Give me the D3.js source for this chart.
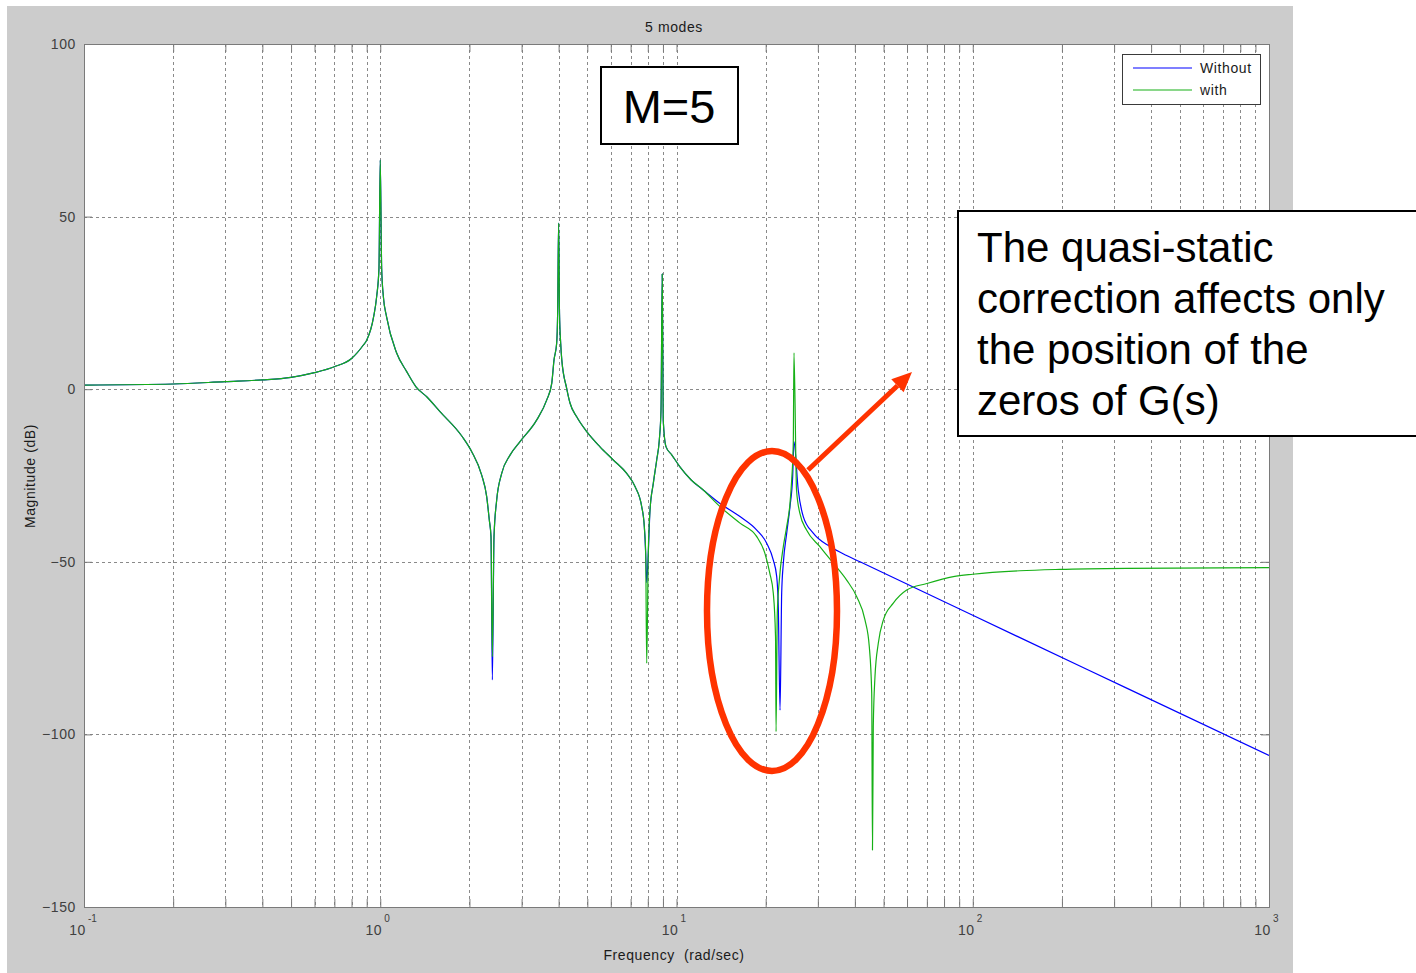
<!DOCTYPE html>
<html>
<head>
<meta charset="utf-8">
<script src="https://cdn.jsdelivr.net/npm/d3@7/dist/d3.min.js"></script>
<style>
  html, body { margin: 0; padding: 0; background: #ffffff; }
  svg { display: block; }
  text { font-family: "Liberation Sans", Arial, Helvetica, sans-serif; }
  .axtxt { font-size: 14px; letter-spacing: 0.6px; }
</style>
</head>
<body>
<svg id="chart" width="1416" height="973"></svg>
<script>
// Bode magnitude of the 5-mode model, with and without the quasi-static correction

// ---- data ----
const freqWithout = [0.1, 0.2, 0.3, 0.4, 0.5, 0.6, 0.7, 0.8, 0.877, 0.9, 0.95, 0.973, 0.99, 1.0, 1.011, 1.024, 1.05,
  1.136, 1.228, 1.32, 1.435, 1.591, 1.89, 2.036, 2.2, 2.287, 2.334, 2.365, 2.39, 2.421, 2.472, 2.57, 2.742, 2.963,
  3.375, 3.648, 3.792, 3.86, 3.94, 3.97, 4.0, 4.028, 4.065, 4.1, 4.26, 4.37, 4.604, 4.977, 5.518, 6.118, 6.791,
  7.244, 7.63, 7.787, 7.87, 7.933, 8.03, 8.14, 8.35, 8.574, 8.75, 8.866, 8.95, 9.02, 9.22, 9.634, 10.27, 11.21, 12.31,
  14.02, 16.38, 18.66, 20.16, 21.22, 21.79, 22.06, 22.36, 22.65, 22.94, 23.55, 24.16, 24.67, 24.92, 25.76, 26.79,
  28.95, 32.97, 37.53, 41.63, 100, 330.8, 1000];
const magWithout = [1.2, 1.5, 2.2, 2.7, 3.45, 4.8, 6.5, 8.9, 12.8, 14.2, 21, 27, 35, 66.4, 35, 27, 21,
  10.5, 5.1, 0.7, -2.2, -6.5, -13.7, -18.1, -24.9, -31.1, -37.9, -42.7, -84.2, -42.7, -32.1, -24.4, -19.1, -15.2,
  -8.9, -3.1, 1.7, 8.5, 13.3, 22, 48.1, 22, 13.3, 8.5, 0.2, -4, -8, -12.3, -16.7, -20.5, -24.4,
  -28.2, -34, -39.8, -47.5, -56, -47.5, -35, -27.3, -20.5, -14.7, -6, 33.4, -8.9, -16.7, -19, -22.5, -26.3, -29.2,
  -33.1, -36.9, -40.8, -44.6, -49.5, -54.3, -63, -93, -59, -50.4, -41.7, -34, -25.3, -15.2, -29.2, -36.9,
  -41.7, -45.6, -48.2, -50, -65.5, -86.6, -106.1];

const freqWith = [0.1, 0.2, 0.3, 0.4, 0.5, 0.6, 0.7, 0.8, 0.877, 0.9, 0.95, 0.973, 0.99, 1.0, 1.011, 1.024, 1.05,
  1.136, 1.228, 1.32, 1.435, 1.591, 1.89, 2.036, 2.2, 2.287, 2.334, 2.365, 2.39, 2.421, 2.472, 2.57, 2.742, 2.963,
  3.375, 3.648, 3.792, 3.86, 3.94, 3.97, 4.0, 4.028, 4.065, 4.1, 4.26, 4.37, 4.604, 4.977, 5.518, 6.118, 6.791,
  7.244, 7.63, 7.787, 7.87, 7.933, 8.03, 8.14, 8.35, 8.574, 8.75, 8.866, 8.95, 9.02, 9.22, 9.634, 10.27, 11.21, 12.31,
  14.02, 16.38, 18.66, 19.87, 20.65, 21.22, 21.59, 21.68, 21.89, 22.24, 22.94, 23.55, 24.16, 24.48, 24.79, 24.92,
  25.42, 26.08, 27.48, 30.48, 33.83, 37.53, 40.58, 43.29, 44.75, 45.6, 45.87, 46.16, 46.77, 47.99, 49.9, 53.93,
  59.84, 69.94, 86.01, 100, 144.3, 197, 330.8, 1000];
const magWith = [1.2, 1.5, 2.2, 2.7, 3.45, 4.8, 6.5, 8.9, 12.8, 14.2, 21, 27, 35, 66.4, 35, 27, 21,
  10.5, 5.1, 0.7, -2.2, -6.5, -13.7, -18.1, -24.9, -31.1, -37.9, -42.7, -77.5, -42.7, -32.1, -24.4, -19.1, -15.2,
  -8.9, -3.1, 1.7, 8.5, 13.3, 22, 48.1, 22, 13.3, 8.5, 0.2, -4, -8, -12.3, -16.7, -20.5, -24.4,
  -28.2, -34, -39.8, -47.5, -79.4, -47.5, -35, -27.3, -20.5, -14.7, -6, 33.4, -8.9, -16.7, -19, -22.5, -26.3, -29.2,
  -34, -38.8, -42.7, -47.5, -53.3, -59.1, -71.7, -99.2, -64.9, -55.3, -45.6, -39.8, -33.1, -26.3, -15.2, 10.5,
  -29.2, -35.9, -40.8, -45.6, -50.4, -55.3, -60.1, -66.9, -74.6, -88.1, -133.5, -97.8, -83.3, -73.6, -66.9, -62,
  -58.2, -56.3, -54.3, -53.6, -52.6, -52.2, -51.9, -51.7];

const yTicks = [-150, -100, -50, 0, 50, 100];
const decadeTicks = [0.1, 1, 10, 100, 1000];
const decadeExponents = ["-1", "0", "1", "2", "3"];
const seriesNames = ["Without", "with"];
const seriesColors = ["#0000ff", "#16b016"];
const calloutLines = ["The quasi-static", "correction affects only", "the position of the", "zeros of G(s)"];

// ---- layout ----
const svg = d3.select("#chart");
const plot = { left: 84, right: 1269, top: 44, bottom: 907 };

const x = d3.scaleLog().domain([0.1, 1000]).range([plot.left, plot.right]);
const y = d3.scaleLinear().domain([-150, 100]).range([plot.bottom, plot.top]);

const minorTicks = [];
[0.1, 1, 10, 100].forEach(d => { for (let k = 2; k <= 9; k++) minorTicks.push(d * k); });
const allXTicks = minorTicks.concat(decadeTicks);

// figure background
svg.append("rect").attr("x", 7).attr("y", 6).attr("width", 1286).attr("height", 967).attr("fill", "#cccccc");
// axes background
svg.append("rect").attr("x", plot.left).attr("y", plot.top)
  .attr("width", plot.right - plot.left).attr("height", plot.bottom - plot.top).attr("fill", "#ffffff");

// grid
const grid = svg.append("g").attr("stroke", "#8a8a8a").attr("stroke-width", 1).attr("stroke-dasharray", "3,3")
  .attr("shape-rendering", "crispEdges");
grid.selectAll("line.v").data(allXTicks.filter(d => d > 0.1 && d < 1000)).join("line")
  .attr("x1", d => Math.round(x(d)) + 0.5).attr("x2", d => Math.round(x(d)) + 0.5)
  .attr("y1", plot.top).attr("y2", plot.bottom);
grid.selectAll("line.h").data(yTicks.filter(d => d > -150 && d < 100)).join("line")
  .attr("x1", plot.left).attr("x2", plot.right)
  .attr("y1", d => Math.round(y(d)) + 0.5).attr("y2", d => Math.round(y(d)) + 0.5);

// curves
svg.append("clipPath").attr("id", "plotClip").append("rect")
  .attr("x", plot.left).attr("y", plot.top).attr("width", plot.right - plot.left).attr("height", plot.bottom - plot.top);

const line = d3.line().x(d => x(d[0])).y(d => y(d[1])).curve(d3.curveMonotoneX);
const seriesData = [
  d3.zip(freqWithout, magWithout),
  d3.zip(freqWith, magWith)
];
svg.append("g").attr("clip-path", "url(#plotClip)")
  .selectAll("path").data(seriesData).join("path")
  .attr("d", line)
  .attr("fill", "none")
  .attr("stroke", (d, i) => seriesColors[i])
  .attr("stroke-width", 1.2)
  .attr("stroke-linejoin", "round");

// frame and ticks
const axisColor = "#7a7a7a";
const tickLen = 8;
const axes = svg.append("g");
axes.append("g").attr("transform", `translate(0,${plot.bottom})`)
  .call(d3.axisBottom(x).tickValues(allXTicks).tickSize(-tickLen).tickFormat(""));
axes.append("g").attr("transform", `translate(0,${plot.top})`)
  .call(d3.axisTop(x).tickValues(allXTicks).tickSize(-tickLen).tickFormat(""));
axes.append("g").attr("transform", `translate(${plot.left},0)`)
  .call(d3.axisLeft(y).tickValues(yTicks).tickSize(-tickLen).tickPadding(8));
axes.append("g").attr("transform", `translate(${plot.right},0)`)
  .call(d3.axisRight(y).tickValues(yTicks).tickSize(-tickLen).tickFormat(""));
axes.selectAll(".domain").attr("stroke", axisColor);
axes.selectAll(".tick line").attr("stroke", axisColor);
axes.selectAll(".tick text").attr("fill", "#404040").attr("class", "axtxt")
  .style("font-family", "'Liberation Sans', Arial, sans-serif");

// decade labels 10^n
const xLab = svg.append("g").attr("fill", "#404040");
decadeTicks.forEach((d, i) => {
  const px = x(d);
  xLab.append("text").attr("x", px + 2).attr("y", 935).attr("text-anchor", "end")
    .attr("class", "axtxt").text("10");
  xLab.append("text").attr("x", px + 4).attr("y", 922).attr("text-anchor", "start")
    .style("font-size", "10px").text(decadeExponents[i]);
});

// titles
svg.append("text").attr("x", 674).attr("y", 32).attr("text-anchor", "middle")
  .attr("class", "axtxt").attr("fill", "#1a1a1a").text("5 modes");
svg.append("text").attr("x", 674).attr("y", 960).attr("text-anchor", "middle")
  .attr("class", "axtxt").attr("fill", "#1a1a1a")
  .style("white-space", "pre").text("Frequency  (rad/sec)");
svg.append("text").attr("transform", "translate(35,476) rotate(-90)").attr("text-anchor", "middle")
  .attr("class", "axtxt").attr("fill", "#1a1a1a").text("Magnitude (dB)");

// legend
const legend = svg.append("g");
legend.append("rect").attr("x", 1122.5).attr("y", 54.5).attr("width", 138).attr("height", 50)
  .attr("fill", "#ffffff").attr("stroke", "#3a3a3a").attr("stroke-width", 1);
seriesNames.forEach((name, i) => {
  const ly = 68 + i * 22;
  legend.append("line").attr("x1", 1133).attr("x2", 1192).attr("y1", ly).attr("y2", ly)
    .attr("stroke", seriesColors[i]).attr("stroke-width", 1.2);
  legend.append("text").attr("x", 1200).attr("y", ly + 5).attr("class", "axtxt")
    .attr("fill", "#1a1a1a").text(name);
});

// M=5 label box
svg.append("rect").attr("x", 601).attr("y", 67).attr("width", 137).attr("height", 77)
  .attr("fill", "#ffffff").attr("stroke", "#000000").attr("stroke-width", 2);
svg.append("text").attr("x", 669).attr("y", 123).attr("text-anchor", "middle")
  .style("font-size", "47px").attr("fill", "#000000").text("M=5");

// red ellipse around the shifted zero
const accent = "#ff3300";
svg.append("ellipse").attr("cx", 772).attr("cy", 611).attr("rx", 65).attr("ry", 160)
  .attr("fill", "none").attr("stroke", accent).attr("stroke-width", 6.5);

// arrow towards the note
const ax1 = 808, ay1 = 470, ax2 = 912, ay2 = 372;
const ang = Math.atan2(ay2 - ay1, ax2 - ax1);
const headLen = 20, headHalf = 9;
const bx = ax2 - headLen * Math.cos(ang), by = ay2 - headLen * Math.sin(ang);
svg.append("line").attr("x1", ax1).attr("y1", ay1).attr("x2", bx).attr("y2", by)
  .attr("stroke", accent).attr("stroke-width", 5);
svg.append("path")
  .attr("d", `M${ax2},${ay2} L${bx + headHalf * Math.sin(ang)},${by - headHalf * Math.cos(ang)} L${bx - headHalf * Math.sin(ang)},${by + headHalf * Math.cos(ang)} Z`)
  .attr("fill", accent);

// note box
svg.append("rect").attr("x", 958).attr("y", 211).attr("width", 470).attr("height", 225)
  .attr("fill", "#ffffff").attr("stroke", "#000000").attr("stroke-width", 2);
svg.append("g").selectAll("text").data(calloutLines).join("text")
  .attr("x", 977).attr("y", (d, i) => 262 + i * 51)
  .style("font-size", "42px").attr("fill", "#000000").text(d => d);
</script>
</body>
</html>
